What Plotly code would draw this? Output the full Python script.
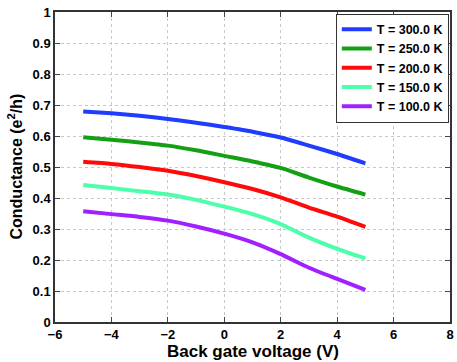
import plotly.graph_objects as go

voltage = [-5, -4, -3, -2, -1, 0, 1, 2, 3, 4, 5]
g_300 = [0.679, 0.673, 0.665, 0.655, 0.643, 0.629, 0.614, 0.595, 0.569, 0.542, 0.512]
g_250 = [0.596, 0.588, 0.579, 0.569, 0.554, 0.536, 0.518, 0.497, 0.466, 0.437, 0.411]
g_200 = [0.517, 0.510, 0.500, 0.488, 0.471, 0.451, 0.429, 0.402, 0.369, 0.340, 0.307]
g_150 = [0.442, 0.432, 0.422, 0.411, 0.394, 0.372, 0.348, 0.316, 0.272, 0.236, 0.205]
g_100 = [0.357, 0.348, 0.339, 0.327, 0.308, 0.285, 0.257, 0.219, 0.175, 0.139, 0.104]

series = [
    ("T = 300.0 K", g_300, "#1f3cff"),
    ("T = 250.0 K", g_250, "#14a014"),
    ("T = 200.0 K", g_200, "#ff0a0a"),
    ("T = 150.0 K", g_150, "#4dffaa"),
    ("T = 100.0 K", g_100, "#a020ff"),
]

x_ticks = [-6, -4, -2, 0, 2, 4, 6, 8]
x_tick_text = ["\u22126", "\u22124", "\u22122", "0", "2", "4", "6", "8"]
y_ticks = [0, 0.1, 0.2, 0.3, 0.4, 0.5, 0.6, 0.7, 0.8, 0.9, 1]
y_tick_text = ["0", "0.1", "0.2", "0.3", "0.4", "0.5", "0.6", "0.7", "0.8", "0.9", "1"]

fig = go.Figure()
for name, vals, col in series:
    fig.add_trace(go.Scatter(x=voltage, y=vals, mode="lines", name="<b>" + name + "</b>",
                             line=dict(color=col, width=4, shape="spline", smoothing=0.6)))

font_family = "Liberation Sans, Arial, sans-serif"
axis_common = dict(showline=True, linecolor="#333333", linewidth=1.5, mirror="allticks",
                   ticks="inside", ticklen=5, tickcolor="#444444",
                   showgrid=True, gridcolor="#c8c8c8", griddash="dot", gridwidth=1,
                   zeroline=False, automargin=False,
                   tickfont=dict(family=font_family, size=13, color="black"))

fig.update_layout(
    width=457, height=362,
    margin=dict(l=55, r=7, t=12, b=40, autoexpand=False),
    paper_bgcolor="white", plot_bgcolor="white",
    font=dict(family=font_family, color="black"),
    xaxis=dict(range=[-6, 8], tickvals=x_ticks,
               ticktext=["<b>" + t + "</b>" for t in x_tick_text],
               **axis_common),
    yaxis=dict(range=[0, 1], tickvals=y_ticks,
               ticktext=["<b>" + t + "</b>" for t in y_tick_text],
               **axis_common),
    legend=dict(x=0.997, y=0.995, xanchor="right", yanchor="top",
                bgcolor="white", bordercolor="#333333", borderwidth=1,
                font=dict(family=font_family, size=12.5, color="black"),
                tracegroupgap=0, itemwidth=30),
    showlegend=True,
    annotations=[
        dict(text="<b>Back gate voltage (V)</b>", xref="paper", yref="paper",
             x=0.501, y=-0.095, xanchor="center", yanchor="middle", showarrow=False,
             font=dict(family=font_family, size=17, color="black")),
        dict(text="<b>Conductance (e<sup>2</sup>/h)</b>", xref="paper", yref="paper",
             x=-0.1, y=0.5, xanchor="center", yanchor="middle", showarrow=False,
             textangle=-90, font=dict(family=font_family, size=16, color="black")),
    ],
)

fig.write_html("out.html", config={"displayModeBar": False},
               post_script="document.body.style.margin='0px';document.body.style.overflow='hidden';")
